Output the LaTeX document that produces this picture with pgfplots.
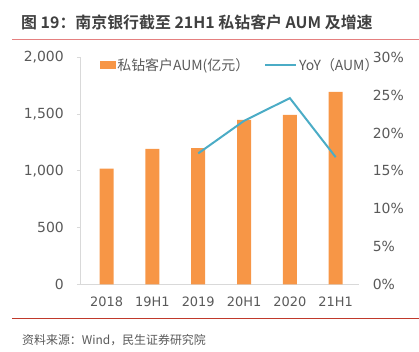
\documentclass[border=0pt]{standalone}
\usepackage{pgfplots}
\pgfplotsset{compat=1.18}
\usepackage{fontspec}
\setmainfont{DejaVu Sans}
\newfontfamily\cjk{Noto Sans CJK SC}
\newfontfamily\cjkb{Noto Sans CJK SC Bold}
\definecolor{barorange}{HTML}{F79646}
\definecolor{lineblue}{HTML}{4BACC6}
\definecolor{txtgray}{HTML}{595959}
\definecolor{axgray}{HTML}{D9D9D9}
\definecolor{titlegray}{HTML}{404040}
\definecolor{topred}{HTML}{E58080}
\definecolor{botred}{HTML}{C0392B}
\begin{document}
\begin{tikzpicture}[x=1bp,y=1bp]
\path (0,0) rectangle (419,352);
\draw[topred, line width=0.9bp] (12,312.7) -- (419,312.7);
\draw[botred, line width=0.9bp] (12,33) -- (419,33);
\node[anchor=west, inner sep=0, text=titlegray] at (21,330) {\fontsize{16}{16}\selectfont\cjkb 图 19：南京银行截至 21H1 私钻客户 AUM 及增速};
\node[anchor=west, inner sep=0, text=txtgray] at (22,12) {\fontsize{12}{12}\selectfont\cjk 资料来源：Wind，民生证券研究院};

\begin{axis}[
  at={(81bp,67.3bp)}, anchor=south west,
  scale only axis, width=278bp, height=227.4bp,
  xmin=-0.56, xmax=5.5, ymin=0, ymax=2000,
  ytick={0,500,...,2000},
  xtick={0,...,5},
  xticklabels={2018,19H1,2019,20H1,2020,21H1},
  axis x line*=bottom, axis y line*=left,
  axis line style={axgray, line width=0.9bp},
  every tick/.style={axgray, line width=0.9bp},
  x tick style={draw=none},
  y tick style={axgray},
  tick align=outside,
  major tick length=4bp,
  extra x ticks={-0.5,0.5,1.5,2.5,3.5,4.5,5.5},
  extra x tick labels={},
  extra x tick style={tick style={axgray, line width=0.9bp}, major tick length=4bp, tick align=outside},
  /pgf/number format/assume math mode=true,
  /pgf/number format/1000 sep={,},
  yticklabel style={font=\fontsize{14}{14}\selectfont, text=txtgray, inner sep=0pt, xshift=-13bp},
  xticklabel style={font=\fontsize{13}{13}\selectfont, text=txtgray, yshift=-5bp},
  clip=false,
]
\addplot[ybar, bar width=14bp, fill=barorange, draw=none] coordinates {(0,1020)(1,1193)(2,1200)(3,1449)(4,1492)(5,1695)};
\end{axis}

\begin{axis}[
  at={(81bp,67.3bp)}, anchor=south west,
  scale only axis, width=278bp, height=227.4bp,
  xmin=-0.56, xmax=5.5, ymin=0, ymax=30,
  axis x line=none,
  axis y line*=right,
  y axis line style={draw=none},
  ytick={0,5,...,30},
  major tick length=0pt,
  /pgf/number format/assume math mode=true,
  yticklabel={\pgfmathprintnumber{\tick}\%},
  yticklabel style={font=\fontsize{14}{14}\selectfont, text=txtgray, anchor=west, inner sep=0pt, xshift=14bp},
  legend style={at={(0.068,0.966)}, anchor=west, draw=none, fill=none, inner sep=0pt,
    legend columns=2, font=\fontsize{14}{14}\selectfont\cjk, text=txtgray,
    /tikz/every even column/.append style={column sep=13bp}},
  legend cell align=left,
  clip=false,
]
\addlegendimage{legend image code/.code={\fill[barorange] (0bp,-3.5bp) rectangle (15bp,3.5bp);}}
\addlegendentry{私钻客户AUM(亿元）}
\addplot[lineblue, line width=2bp, mark=none,
  legend image code/.code={\draw[lineblue, line width=2bp] (0bp,0bp) -- (31bp,0bp);}]
  coordinates {(2,17.3)(3,21.6)(4,24.6)(5,16.8)};
\addlegendentry{YoY（AUM）}
\end{axis}
\end{tikzpicture}
\end{document}
